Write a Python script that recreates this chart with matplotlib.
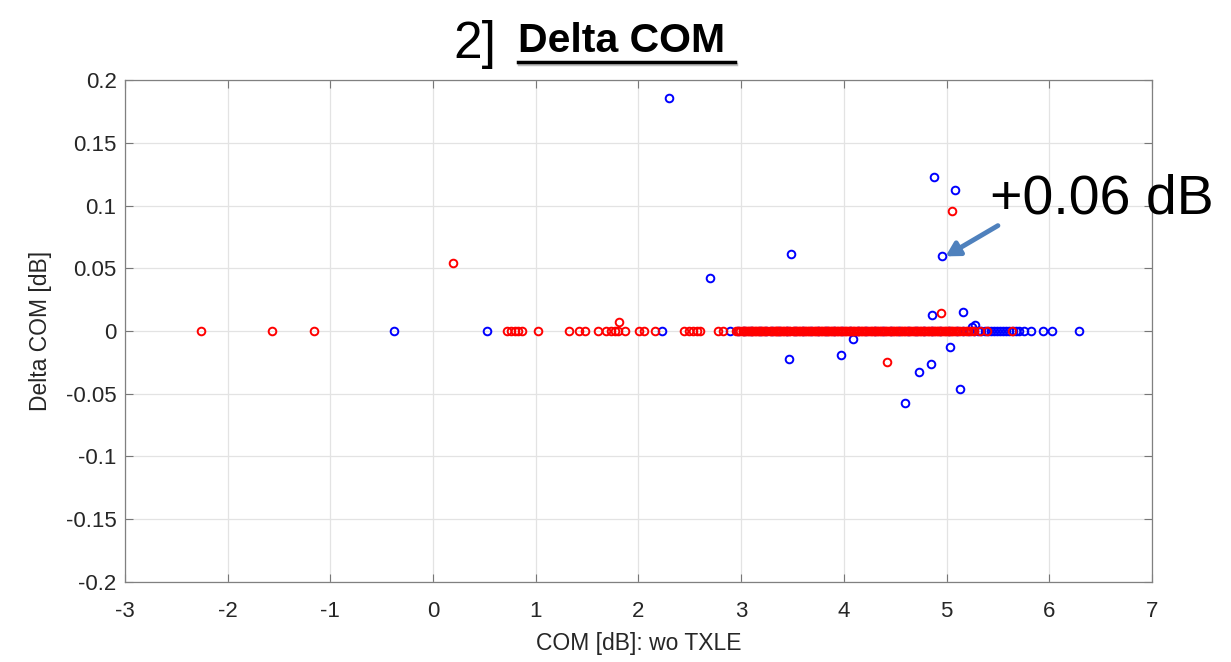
import numpy as np
import matplotlib.pyplot as plt
from matplotlib.lines import Line2D
import matplotlib.patheffects as pe

plt.rcParams['font.family'] = ['Liberation Sans', 'DejaVu Sans']

# COM sin TXLE (eje x) y diferencia de COM (eje y)
# Serie azul: puntos fuera de cero
azul_x = [2.30, 4.88, 5.08, 4.96, 3.49, 2.70, 4.86, 5.16, 5.25, 5.28,
          3.47, 3.97, 4.09, 4.73, 4.85, 5.03, 5.13, 4.60]
azul_y = [0.186, 0.123, 0.112, 0.06, 0.061, 0.042, 0.013, 0.015, 0.003, 0.005,
          -0.022, -0.019, -0.0065, -0.033, -0.026, -0.013, -0.046, -0.057]
# Serie azul: puntos con delta = 0
azul_x0 = [-0.38, 0.53, 2.23, 2.89, 2.97, 3.03, 3.10, 3.18, 3.24, 3.30,
           3.37, 3.45, 3.52, 3.60, 3.68, 3.75, 3.83, 3.90, 3.98, 4.06,
           4.14, 4.22, 4.30, 4.38, 4.46, 4.54, 4.62, 4.70, 4.78, 4.86,
           4.94, 5.02, 5.10, 5.16, 5.22, 5.27, 5.31, 5.34, 5.37, 5.40,
           5.43, 5.46, 5.49, 5.52, 5.55, 5.58, 5.61, 5.65, 5.68, 5.71,
           5.75, 5.82, 5.94, 6.03, 6.29]

# Serie roja: puntos fuera de cero
rojo_x = [5.05, 0.19, 1.81, 4.95, 4.42]
rojo_y = [0.096, 0.054, 0.007, 0.014, -0.025]
# Serie roja: puntos con delta = 0
rojo_x0 = [-2.26, -1.57, -1.16, 0.72, 0.76, 0.80, 0.83, 0.87, 1.02, 1.32,
           1.42, 1.48, 1.61, 1.68, 1.73, 1.77, 1.80, 1.87, 2.01, 2.05,
           2.16, 2.44, 2.49, 2.53, 2.57, 2.60, 2.77, 2.82,
           2.95, 2.97, 2.99, 3.02, 3.05, 3.08, 3.11, 3.13, 3.16, 3.19,
           3.22, 3.25, 3.28, 3.31, 3.34, 3.36, 3.39, 3.42, 3.45, 3.48,
           3.50, 3.53, 3.56, 3.59, 3.62, 3.65, 3.68, 3.70, 3.73, 3.76,
           3.79, 3.82, 3.85, 3.87, 3.90, 3.93, 3.96, 3.99, 4.01, 4.04,
           4.07, 4.10, 4.12, 4.15, 4.18, 4.21, 4.24, 4.26, 4.29, 4.32,
           4.35, 4.38, 4.40, 4.43, 4.46, 4.49, 4.52, 4.54, 4.57, 4.60,
           4.63, 4.66, 4.68, 4.71, 4.74, 4.77, 4.80, 4.83, 4.86, 4.89,
           4.92, 4.95, 4.98, 5.01, 5.04, 5.07, 5.11, 5.16, 5.21, 5.27,
           5.33, 5.39, 5.64]
# Mas casos rojos en la zona densa (3 a 5 dB)
rojo_x0b = [3.015, 3.035, 3.065, 3.095, 3.12, 3.145, 3.175, 3.205, 3.235,
            3.295, 3.325, 3.35, 3.375, 3.405, 3.435, 3.465, 3.515, 3.545,
            3.575, 3.605, 3.635, 3.665, 3.715, 3.745, 3.775, 3.805, 3.835,
            3.86, 3.885, 3.915, 3.945, 3.975, 4.025, 4.055, 4.085, 4.135,
            4.165, 4.195, 4.225, 4.275, 4.305, 4.335, 4.365, 4.415, 4.445,
            4.475, 4.505, 4.555, 4.585, 4.615, 4.645, 4.695, 4.725, 4.755,
            4.785, 4.815, 4.845, 4.875, 4.905, 4.935, 4.965, 4.995, 5.025,
            5.055, 5.09, 5.135, 5.185, 5.24]

xticks = [-3, -2, -1, 0, 1, 2, 3, 4, 5, 6, 7]
yticks = [-0.2, -0.15, -0.1, -0.05, 0, 0.05, 0.1, 0.15, 0.2]
ytick_labels = ['-0.2', '-0.15', '-0.1', '-0.05', '0', '0.05', '0.1', '0.15', '0.2']

fig = plt.figure(figsize=(12.31, 6.62), dpi=100)
ax = fig.add_axes([0.1015, 0.121, 0.8343, 0.758])

bx = np.array(azul_x0 + azul_x)
by = np.array([0.0] * len(azul_x0) + azul_y)
rx = np.array(rojo_x0 + rojo_x0b + rojo_x)
ry = np.array([0.0] * (len(rojo_x0) + len(rojo_x0b)) + rojo_y)

estilo = dict(linestyle='none', marker='o', markersize=5.5,
              markerfacecolor='none', markeredgewidth=1.4)
ax.plot(bx, by, color='#0000ff', zorder=3, **estilo)
ax.plot(rx, ry, color='#ff0000', zorder=4, **estilo)

ax.set_xlim(-3, 7)
ax.set_ylim(-0.2, 0.2)
ax.set_xticks(xticks)
ax.set_xticklabels([str(t) for t in xticks])
ax.set_yticks(yticks)
ax.set_yticklabels(ytick_labels)
ax.grid(True, color='#e3e3e3', linewidth=0.9)
ax.set_axisbelow(True)
ax.tick_params(direction='in', length=6, width=0.8, colors='#777777',
               labelcolor='#262626', labelsize=16, top=True, right=True, pad=6)
ax.tick_params(axis='x', pad=14)
for s in ax.spines.values():
    s.set_color('#808080')
    s.set_linewidth(0.9)

ax.set_xlabel('COM [dB]: wo TXLE', fontsize=16.5, color='#262626', labelpad=7)
ax.set_ylabel('Delta COM [dB]', fontsize=16.5, color='#262626', labelpad=10)

# Titulo
fig.text(453 / 1231, 1 - 58 / 662, '2]', fontsize=37, ha='left', va='baseline')
fig.text(518 / 1231, 1 - 52 / 662, 'Delta COM', fontsize=29.5, fontweight='bold',
         ha='left', va='baseline')
fig.add_artist(Line2D([518 / 1231, 735 / 1231], [1 - 62 / 662, 1 - 62 / 662],
                      color='black', linewidth=2.5, transform=fig.transFigure,
                      path_effects=[pe.SimpleLineShadow(offset=(1, -1.5), alpha=0.25),
                                    pe.Normal()]))

# Anotacion del punto de +0.06 dB
ax.annotate('', xy=(4.99, 0.0595), xytext=(5.50, 0.084),
            arrowprops=dict(arrowstyle='-|>,head_length=0.8,head_width=0.45',
                            color='#4f81bd', linewidth=3.5, shrinkA=0, shrinkB=0),
            zorder=6)
fig.text(990 / 1231, 1 - 214 / 662, '+0.06 dB', fontsize=40, ha='left',
         va='baseline')

plt.savefig('out.png', dpi=100)
